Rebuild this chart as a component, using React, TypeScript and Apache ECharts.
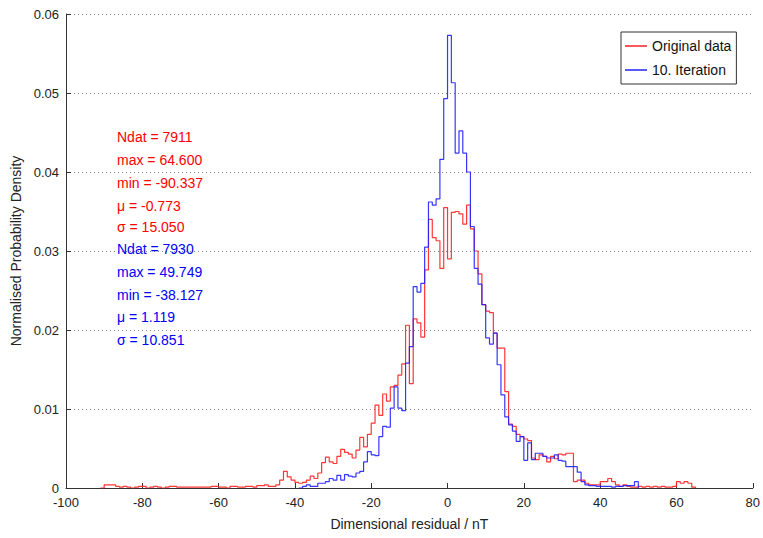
import React, { useEffect, useRef } from "react";
import * as echarts from "echarts";

// Histogram bins: 1 nT wide, left edges start at the given value
const originalBinStart = -91;
const originalDensity = [
  0, 0.0004, 0.0004, 0.0004, 0.0002, 0.0001, 0.0002, 0.0001, 0, 0.0001,
  0.0002, 0.0002, 0, 0.0001, 0.0002, 0.0001, 0, 0.0001, 0.0002, 0.0002,
  0.0001, 0.0001, 0.0001, 0.0001, 0.0001, 0.0001, 0.0001, 0.0001, 0.0001, 0.0002,
  0.0002, 0.0001, 0.0001, 0, 0.0002, 0.0002, 0.0001, 0.0001, 0.0002, 0.0002,
  0.0001, 0.0003, 0.0003, 0.0004, 0.0002, 0.0002, 0.0004, 0.0010, 0.0021, 0.0014,
  0.0010, 0.0007, 0.0006, 0.0007, 0.0010, 0.0015, 0.0012, 0.0019, 0.0032, 0.0039,
  0.0033, 0.0031, 0.0040, 0.0049, 0.0045, 0.0043, 0.0038, 0.0048, 0.0064, 0.0052,
  0.0068, 0.0082, 0.0105, 0.0092, 0.0119, 0.0110, 0.0128, 0.0130, 0.0143, 0.0157,
  0.0206, 0.0132, 0.0214, 0.0209, 0.0191, 0.0276, 0.0340, 0.0317, 0.0313, 0.0278,
  0.0355, 0.0290, 0.0349, 0.0350, 0.0347, 0.0334, 0.0358, 0.0328, 0.0300, 0.0271,
  0.0232, 0.0224, 0.0222, 0.0196, 0.0177, 0.0177, 0.0122, 0.0081, 0.0078, 0.0068,
  0.0065, 0.0062, 0.0060, 0.0038, 0.0036, 0.0042, 0.0040, 0.0033, 0.0040, 0.0037,
  0.0043, 0.0042, 0.0044, 0.0044, 0.0008, 0.0010, 0.0010, 0.0006, 0.0004, 0.0004,
  0.0004, 0.0008, 0.0008, 0.0012, 0.0008, 0.0004, 0.0002, 0.0004, 0.0002, 0.0001,
  0.0001, 0.0002, 0.0001, 0.0002, 0.0001, 0.0002, 0.0001, 0.0002, 0.0001, 0.0001,
  0.0002, 0.0008, 0.0006, 0.0008, 0.0006, 0.0001,
];

const iterationBinStart = -39;
const iterationDensity = [
  0, 0.0002, 0.0004, 0.0002, 0.0002, 0.0006, 0.0006, 0.0008, 0.0012, 0.0010,
  0.0016, 0.0010, 0.0017, 0.0015, 0.0014, 0.0019, 0.0021, 0.0033, 0.0046, 0.0042,
  0.0041, 0.0065, 0.0078, 0.0077, 0.0101, 0.0128, 0.0101, 0.0098, 0.0158, 0.0179,
  0.0255, 0.0248, 0.0259, 0.0305, 0.0362, 0.0358, 0.0366, 0.0416, 0.0493, 0.0573,
  0.0513, 0.0424, 0.0452, 0.0424, 0.0400, 0.0331, 0.0278, 0.0258, 0.0232, 0.0190,
  0.0182, 0.0196, 0.0156, 0.0118, 0.0090, 0.0080, 0.0072, 0.0059, 0.0065, 0.0035,
  0.0057, 0.0036, 0.0044, 0.0044, 0.0040, 0.0038, 0.0038, 0.0042, 0.0035, 0.0034,
  0.0027, 0.0027, 0.0027, 0.0020, 0.0008, 0.0004, 0.0003, 0.0003, 0.0002, 0.0002,
  0.0002, 0.0002, 0.0001, 0.0002, 0.0002, 0.0003, 0.0003, 0.0003, 0.0008,
];

const seriesNames = ["Original data", "10. Iteration"];
const seriesColors = ["#ff2020", "#2020ff"];

const originalStats = ["Ndat = 7911", "max = 64.600", "min = -90.337", "\u03bc = -0.773", "\u03c3 = 15.050"];
const iterationStats = ["Ndat = 7930", "max = 49.749", "min = -38.127", "\u03bc = 1.119", "\u03c3 = 10.851"];

const xTicks = { min: -100, max: 80, interval: 20 };
const yTicks = { min: 0, max: 0.06, interval: 0.01 };

const FONT = "'Liberation Sans', Arial, Helvetica, sans-serif";

function toSteps(start: number, values: number[]) {
  const pts: [number, number][] = values.map((v, i) => [start + i, v]);
  pts.push([start + values.length, 0]);
  return pts;
}

export default function App() {
  const ref = useRef<HTMLDivElement>(null);
  useEffect(() => {
    document.body.style.margin = "0";
    const chart = echarts.init(ref.current!, null, { renderer: "svg" });
    const statLines = [
      ...originalStats.map((t) => ({ t, c: "#ff0000" })),
      ...iterationStats.map((t) => ({ t, c: "#0000ff" })),
    ];
    const statY = [138, 161, 184, 206.5, 228, 250, 273, 295.5, 318, 340.5];
    chart.setOption({
      animation: false,
      backgroundColor: "#ffffff",
      grid: { left: 66, right: 6, top: 14, bottom: 50, containLabel: false },
      xAxis: {
        type: "value",
        min: xTicks.min,
        max: xTicks.max,
        interval: xTicks.interval,
        name: "Dimensional residual / nT",
        nameLocation: "middle",
        nameGap: 29,
        nameTextStyle: { fontFamily: FONT, fontSize: 14, color: "#222" },
        axisLine: { show: true, onZero: false, lineStyle: { color: "#333", width: 1 } },
        axisTick: { show: true, inside: true, length: 5, lineStyle: { color: "#333" } },
        axisLabel: { fontFamily: FONT, fontSize: 13, color: "#222", margin: 8 },
        splitLine: { show: false },
      },
      yAxis: {
        type: "value",
        min: yTicks.min,
        max: yTicks.max,
        interval: yTicks.interval,
        name: "Normalised Probability Density",
        nameLocation: "middle",
        nameGap: 42,
        nameTextStyle: { fontFamily: FONT, fontSize: 14, color: "#222" },
        axisLine: { show: true, onZero: false, lineStyle: { color: "#333", width: 1 } },
        axisTick: { show: true, inside: true, length: 5, lineStyle: { color: "#333" } },
        axisLabel: {
          fontFamily: FONT,
          fontSize: 13,
          color: "#222",
          margin: 7,
          formatter: (v: number) => (v === 0 ? "0" : v.toFixed(2)),
        },
        splitLine: { show: true, lineStyle: { color: "#888", type: [1, 3], width: 1 } },
      },
      legend: {
        show: true,
        orient: "vertical",
        left: 621,
        top: 32,
        padding: [6, 5, 6, 4],
        itemGap: 8,
        itemWidth: 22,
        itemHeight: 1.5,
        icon: "rect",
        backgroundColor: "#fff",
        borderColor: "#333",
        borderWidth: 1,
        borderRadius: 0,
        textStyle: { fontFamily: FONT, fontSize: 14, color: "#111", lineHeight: 16, height: 16 },
        data: seriesNames,
      },
      series: [
        {
          name: seriesNames[0],
          type: "line",
          step: "end",
          symbol: "none",
          data: toSteps(originalBinStart, originalDensity),
          lineStyle: { color: seriesColors[0], width: 1.2, opacity: 0.9 },
          itemStyle: { color: seriesColors[0] },
          z: 2,
        },
        {
          name: seriesNames[1],
          type: "line",
          step: "end",
          symbol: "none",
          data: toSteps(iterationBinStart, iterationDensity),
          lineStyle: { color: seriesColors[1], width: 1.2, opacity: 0.9 },
          itemStyle: { color: seriesColors[1] },
          z: 3,
        },
      ],
      graphic: statLines.map((s, i) => ({
        type: "text",
        left: 117,
        top: statY[i] - 8,
        style: { text: s.t, fill: s.c, font: `14px ${FONT}` },
        z: 10,
      })),
    });
    return () => chart.dispose();
  }, []);
  return (
    <div
      ref={ref}
      style={{ position: "absolute", left: 0, top: 0, width: 763, height: 538 }}
    />
  );
}
